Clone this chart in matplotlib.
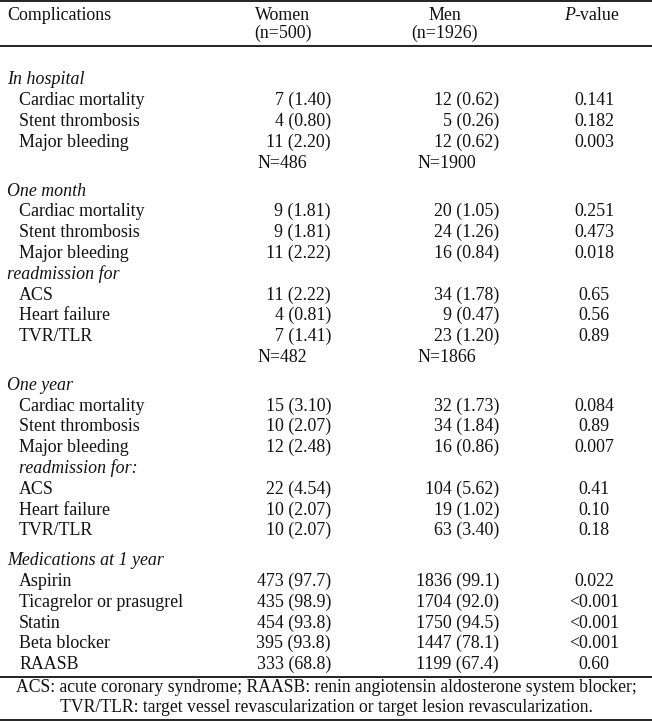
import matplotlib
matplotlib.use("Agg")
import matplotlib.pyplot as plt

# table content
col_headers = ["Complications", "Women", "Men"]
col_n = ["(n=500)", "(n=1926)"]

row_labels = ["In hospital", "Cardiac mortality", "Stent thrombosis", "Major bleeding", "",
              "One month", "Cardiac mortality", "Stent thrombosis", "Major bleeding",
              "readmission for", "ACS", "Heart failure", "TVR/TLR", "",
              "One year", "Cardiac mortality", "Stent thrombosis", "Major bleeding",
              "readmission for:", "ACS", "Heart failure", "TVR/TLR",
              "Medications at 1 year", "Aspirin", "Ticagrelor or prasugrel", "Statin",
              "Beta blocker", "RAASB"]
women = ["", "7 (1.40)", "4 (0.80)", "11 (2.20)", "N=486",
         "", "9 (1.81)", "9 (1.81)", "11 (2.22)",
         "", "11 (2.22)", "4 (0.81)", "7 (1.41)", "N=482",
         "", "15 (3.10)", "10 (2.07)", "12 (2.48)",
         "", "22 (4.54)", "10 (2.07)", "10 (2.07)",
         "", "473 (97.7)", "435 (98.9)", "454 (93.8)", "395 (93.8)", "333 (68.8)"]
men = ["", "12 (0.62)", "5 (0.26)", "12 (0.62)", "N=1900",
       "", "20 (1.05)", "24 (1.26)", "16 (0.84)",
       "", "34 (1.78)", "9 (0.47)", "23 (1.20)", "N=1866",
       "", "32 (1.73)", "34 (1.84)", "16 (0.86)",
       "", "104 (5.62)", "19 (1.02)", "63 (3.40)",
       "", "1836 (99.1)", "1704 (92.0)", "1750 (94.5)", "1447 (78.1)", "1199 (67.4)"]
p_values = ["", "0.141", "0.182", "0.003", "",
            "", "0.251", "0.473", "0.018",
            "", "0.65", "0.56", "0.89", "",
            "", "0.084", "0.89", "0.007",
            "", "0.41", "0.10", "0.18",
            "", "0.022", "<0.001", "<0.001", "<0.001", "0.60"]
row_kind = ["head", "item", "item", "item", "n",
            "head", "item", "item", "item",
            "sub", "item", "item", "item", "n",
            "head", "item", "item", "item",
            "subind", "item", "item", "item",
            "head", "item", "item", "item", "item", "item"]
footnote = ["ACS: acute coronary syndrome; RAASB: renin angiotensin aldosterone system blocker;",
            "TVR/TLR: target vessel revascularization or target lesion revascularization."]

W, H = 652, 722
fig = plt.figure(figsize=(W / 100, H / 100), dpi=100)
ax = fig.add_axes([0, 0, 1, 1])
ax.set_xlim(0, W)
ax.set_ylim(H, 0)
ax.axis("off")

fs = 12.9
font = dict(family="Liberation Serif", fontsize=fs, color="#111111", va="center")

# rules
for y in [1.2, 45.5, 677, 719.5]:
    ax.axhline(y, color="#111111", lw=1.3)

# header
ax.text(7, 15, col_headers[0], ha="left", **font)
ax.text(283, 15, col_headers[1], ha="center", **font)
ax.text(445, 15, col_headers[2], ha="center", **font)
ax.text(574.5, 15, "P", ha="right", style="italic", **font)
ax.text(574.5, 15, "-value", ha="left", **font)
ax.text(283, 33, col_n[0], ha="center", **font)
ax.text(445, 33, col_n[1], ha="center", **font)

# body rows
y = 80
step = 20.8
for i, lab in enumerate(row_labels):
    k = row_kind[i]
    if i > 0:
        y += step
        if k == "head":
            y += 9 if row_kind[i - 1] == "item" else 7
    if k == "n":
        ax.text(258, y, women[i], ha="left", **font)
        ax.text(417, y, men[i], ha="left", **font)
        continue
    if k in ("head", "sub"):
        ax.text(7, y, lab, ha="left", style="italic", **font)
    elif k == "subind":
        ax.text(19, y, lab, ha="left", style="italic", **font)
    else:
        ax.text(19, y, lab, ha="left", **font)
    if women[i]:
        ax.text(331, y, women[i], ha="right", **font)
    if men[i]:
        ax.text(499, y, men[i], ha="right", **font)
    if p_values[i]:
        ax.text(594, y, p_values[i], ha="center", **font)

foot = dict(font, fontsize=12.7)
ax.text(W / 2, 688, footnote[0], ha="center", **foot)
ax.text(W / 2, 707.5, footnote[1], ha="center", **foot)

fig.savefig("out.png", dpi=100)
